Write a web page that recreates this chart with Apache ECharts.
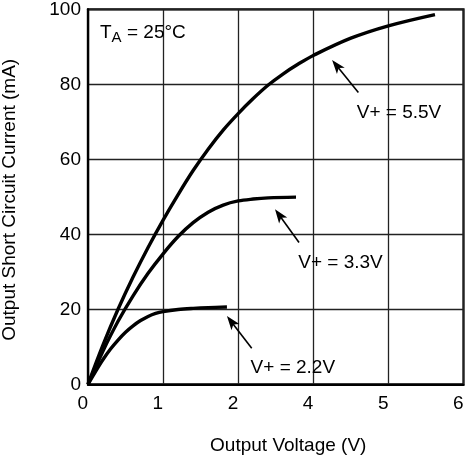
<!DOCTYPE html>
<html>
<head>
<meta charset="utf-8">
<script src="https://cdn.jsdelivr.net/npm/echarts@6/dist/echarts.min.js"></script>
<style>
html,body{margin:0;padding:0;background:#fff;}
#c{width:469px;height:457px;}
</style>
</head>
<body>
<div id="c"></div>
<script>
// x values are in grid-position units (0..5); the reference's tick labels skip "3"
const xTickLabels = ['0', '1', '2', '4', '5', '6'];
const yMin = 0, yMax = 100, yStep = 20;

const curve55 = [[0,0],[0.2,10.5],[0.4,20],[0.6,28.6],[0.8,36.5],[1.0,43.8],[1.2,50.6],[1.4,57.0],[1.6,62.7],[1.8,67.8],[2.0,72.2],[2.2,76.2],[2.4,79.8],[2.6,82.8],[2.8,85.4],[3.0,87.7],[3.5,92.3],[4.0,95.6],[4.62,98.6]];
const curve33 = [[0,0],[0.2,8.9],[0.4,16.8],[0.6,23.6],[0.8,29.6],[1.0,34.8],[1.2,39.4],[1.4,43.1],[1.6,45.9],[1.8,47.8],[2.0,48.9],[2.2,49.4],[2.4,49.7],[2.77,49.9]];
const curve22 = [[0,0],[0.1,3.4],[0.2,6.6],[0.3,9.4],[0.4,11.8],[0.5,13.9],[0.6,15.6],[0.7,17.0],[0.8,18.1],[0.9,18.9],[1.0,19.4],[1.2,19.95],[1.4,20.25],[1.6,20.45],[1.85,20.6]];

const seriesNames = ['V+ = 5.5V', 'V+ = 3.3V', 'V+ = 2.2V'];
// annotation arrows: [tail, head] and label anchor (left, middle), in data units
const arrowTails = [[3.60, 77.8], [2.81, 37.8], [2.18, 9.6]];
const arrowHeads = [[3.25, 86.5], [2.49, 46.7], [1.85, 18.2]];
const labelAnchors = [[3.578, 72.35], [2.80, 32.35], [2.165, 4.35]];

const FONT = '"Liberation Sans", Arial, Helvetica, sans-serif';

const chart = echarts.init(document.getElementById('c'), null, {renderer: 'canvas'});

function mkSeries(name, data) {
  return {
    name: name, type: 'line', data: data, showSymbol: false, smooth: 0.35,
    lineStyle: {color: '#000', width: 3.4}, silent: true, animation: false, z: 5
  };
}

chart.setOption({
  animation: false,
  backgroundColor: '#fff',
  grid: {left: 88, right: 5.5, top: 9.3, bottom: 72.7, outerBoundsMode: 'none', containLabel: false,
    show: true, borderColor: '#000', borderWidth: 2.2, backgroundColor: 'transparent'},
  xAxis: {
    type: 'value', min: 0, max: 5, interval: 1,
    name: 'Output Voltage (V)', nameLocation: 'middle', nameGap: 52,
    nameTextStyle: {fontFamily: FONT, fontSize: 19, color: '#000', padding: [0, 0, 0, 25]},
    axisLine: {show: true, lineStyle: {color: '#000', width: 2.2}},
    axisTick: {show: false},
    axisLabel: {fontFamily: FONT, fontSize: 19, color: '#000', margin: 10,
      formatter: function (v) { return '{a|' + xTickLabels[Math.round(v)] + '}'; },
      rich: {a: {fontFamily: FONT, fontSize: 19, color: '#000', width: 21, align: 'left'}}},
    splitLine: {show: true, lineStyle: {color: '#222', width: 1.3}}
  },
  yAxis: {
    type: 'value', min: yMin, max: yMax, interval: yStep,
    name: 'Output Short Circuit Current (mA)', nameLocation: 'middle', nameGap: 69,
    nameTextStyle: {fontFamily: FONT, fontSize: 19, color: '#000', padding: [0, 6, 0, 0]},
    axisLine: {show: true, lineStyle: {color: '#000', width: 2.2}},
    axisTick: {show: false},
    axisLabel: {fontFamily: FONT, fontSize: 19, color: '#000', margin: 7},
    splitLine: {show: true, lineStyle: {color: '#222', width: 1.3}}
  },
  series: [mkSeries(seriesNames[0], curve55), mkSeries(seriesNames[1], curve33), mkSeries(seriesNames[2], curve22)]
});

const graphics = [];
// title T_A = 25°C
graphics.push({type: 'text', x: 100, y: 33, style: {text: 'T', fontFamily: FONT, fontSize: 19, fill: '#000', verticalAlign: 'middle', align: 'left'}, z: 10});
graphics.push({type: 'text', x: 111.6, y: 38.2, style: {text: 'A', fontFamily: FONT, fontSize: 15, fill: '#000', verticalAlign: 'middle', align: 'left'}, z: 10});
graphics.push({type: 'text', x: 121.7, y: 33, style: {text: ' = 25°C', fontFamily: FONT, fontSize: 19, fill: '#000', verticalAlign: 'middle', align: 'left'}, z: 10});

for (let i = 0; i < seriesNames.length; i++) {
  const t = chart.convertToPixel({gridIndex: 0}, arrowTails[i]);
  const h = chart.convertToPixel({gridIndex: 0}, arrowHeads[i]);
  const dx = h[0] - t[0], dy = h[1] - t[1];
  const len = Math.sqrt(dx * dx + dy * dy);
  const ux = dx / len, uy = dy / len;
  const nx = -uy, ny = ux;
  const L = 14, W = 10;
  const bx = h[0] - ux * L, by = h[1] - uy * L;
  graphics.push({type: 'line', shape: {x1: t[0], y1: t[1], x2: h[0] - ux * L * 0.6, y2: h[1] - uy * L * 0.6},
    style: {stroke: '#000', lineWidth: 1.6}, z: 10});
  graphics.push({type: 'polygon', shape: {points: [
    [h[0], h[1]], [bx + nx * W / 2, by + ny * W / 2], [h[0] - ux * L * 0.75, h[1] - uy * L * 0.75], [bx - nx * W / 2, by - ny * W / 2]
  ]}, style: {fill: '#000'}, z: 10});
  const la = chart.convertToPixel({gridIndex: 0}, labelAnchors[i]);
  graphics.push({type: 'text', x: la[0], y: la[1], style: {text: seriesNames[i], fontFamily: FONT, fontSize: 19, fill: '#000', verticalAlign: 'middle', align: 'left'}, z: 10});
}
chart.setOption({graphic: graphics});
</script>
</body>
</html>
